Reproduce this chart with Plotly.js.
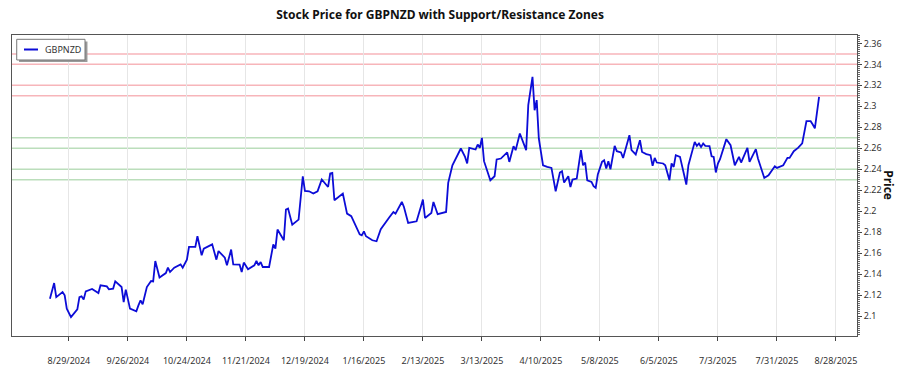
<!DOCTYPE html>
<html>
<head>
<meta charset="utf-8">
<script src="https://cdn.plot.ly/plotly-3.0.1.min.js"></script>
<style>html,body{margin:0;padding:0;background:#fff;}#chart{width:900px;height:375px;}</style>
</head>
<body>
<div id="chart"></div>
<script>
const seriesName = "GBPNZD";
const dates = [
"2024-08-20","2024-08-22","2024-08-23","2024-08-26","2024-08-27","2024-08-28","2024-08-30","2024-09-02","2024-09-03","2024-09-04",
"2024-09-05","2024-09-06","2024-09-09","2024-09-12","2024-09-13","2024-09-16","2024-09-17","2024-09-19","2024-09-20","2024-09-23",
"2024-09-24","2024-09-25","2024-09-27","2024-09-30","2024-10-01","2024-10-02","2024-10-03","2024-10-05","2024-10-07","2024-10-08",
"2024-10-09","2024-10-11","2024-10-14","2024-10-15","2024-10-16","2024-10-18","2024-10-21","2024-10-22","2024-10-24","2024-10-25",
"2024-10-28","2024-10-29","2024-10-31","2024-11-01","2024-11-05","2024-11-07","2024-11-08","2024-11-11","2024-11-12","2024-11-14",
"2024-11-15","2024-11-18","2024-11-19","2024-11-20","2024-11-22","2024-11-25","2024-11-26","2024-11-27","2024-11-28","2024-11-29",
"2024-12-02","2024-12-04","2024-12-05","2024-12-06","2024-12-09","2024-12-10","2024-12-11","2024-12-13","2024-12-16","2024-12-18",
"2024-12-19","2024-12-21","2024-12-23","2024-12-25","2024-12-27","2024-12-30","2024-12-31","2025-01-01","2025-01-02","2025-01-06",
"2025-01-08","2025-01-10","2025-01-14","2025-01-15","2025-01-16","2025-01-17","2025-01-20","2025-01-22","2025-01-24","2025-01-27",
"2025-01-28","2025-01-30","2025-01-31","2025-02-03","2025-02-04","2025-02-06","2025-02-10","2025-02-12","2025-02-13","2025-02-14",
"2025-02-17","2025-02-18","2025-02-20","2025-02-24","2025-02-25","2025-02-27","2025-03-03","2025-03-05","2025-03-06","2025-03-07",
"2025-03-10","2025-03-11","2025-03-12","2025-03-13","2025-03-14","2025-03-17","2025-03-19","2025-03-20","2025-03-22","2025-03-25",
"2025-03-26","2025-03-28","2025-03-29","2025-03-31","2025-04-02","2025-04-03","2025-04-04","2025-04-06","2025-04-07","2025-04-08",
"2025-04-09","2025-04-11","2025-04-13","2025-04-15","2025-04-17","2025-04-19","2025-04-20","2025-04-21","2025-04-23","2025-04-24",
"2025-04-25","2025-04-27","2025-04-29","2025-04-30","2025-05-01","2025-05-02","2025-05-04","2025-05-05","2025-05-06","2025-05-07",
"2025-05-09","2025-05-10","2025-05-11","2025-05-12","2025-05-13","2025-05-15","2025-05-16","2025-05-18","2025-05-19","2025-05-20",
"2025-05-22","2025-05-23","2025-05-25","2025-05-27","2025-05-28","2025-05-30","2025-06-01","2025-06-02","2025-06-03","2025-06-04",
"2025-06-07","2025-06-08","2025-06-10","2025-06-11","2025-06-12","2025-06-13","2025-06-15","2025-06-17","2025-06-18","2025-06-19",
"2025-06-22","2025-06-23","2025-06-24","2025-06-25","2025-06-26","2025-06-27","2025-06-29","2025-06-30","2025-07-01","2025-07-02",
"2025-07-03","2025-07-04","2025-07-07","2025-07-09","2025-07-11","2025-07-13","2025-07-14","2025-07-17","2025-07-18","2025-07-21",
"2025-07-22","2025-07-25","2025-07-27","2025-07-30","2025-07-31","2025-08-03","2025-08-05","2025-08-06","2025-08-08","2025-08-10",
"2025-08-12","2025-08-14","2025-08-16","2025-08-17","2025-08-18","2025-08-20"
];
const prices = [
2.1166,2.1315,2.1181,2.1229,2.1198,2.1071,2.0990,2.1064,2.1181,2.1188,
2.1159,2.1236,2.1258,2.1220,2.1293,2.1283,2.1255,2.1262,2.1331,2.1277,
2.1134,2.1252,2.1071,2.1045,2.1102,2.1150,2.1112,2.1277,2.1334,2.1331,
2.1525,2.1367,2.1410,2.1462,2.1420,2.1462,2.1493,2.1462,2.1538,2.1659,
2.1659,2.1761,2.1579,2.1643,2.1684,2.1538,2.1620,2.1557,2.1484,2.1634,
2.1493,2.1491,2.1420,2.1510,2.1446,2.1484,2.1525,2.1484,2.1515,2.1468,
2.1468,2.1684,2.1643,2.1825,2.1723,2.2016,2.2025,2.1872,2.1920,2.2333,
2.2193,2.2190,2.2168,2.2190,2.2302,2.2231,2.2359,2.2365,2.2104,2.2168,
2.1977,2.1952,2.1780,2.1770,2.1808,2.1761,2.1723,2.1713,2.1828,2.1920,
2.1939,2.1993,2.1977,2.2088,2.2040,2.1888,2.1904,2.2040,2.2111,2.1935,
2.1983,2.2088,2.1971,2.1993,2.2270,2.2438,2.2598,2.2518,2.2455,2.2604,
2.2588,2.2636,2.2604,2.2699,2.2477,2.2295,2.2333,2.2493,2.2502,2.2560,
2.2470,2.2620,2.2582,2.2741,2.2639,2.2582,2.3011,2.3281,2.2963,2.3059,
2.2693,2.2438,2.2422,2.2413,2.2190,2.2369,2.2381,2.2273,2.2333,2.2231,
2.2302,2.2311,2.2582,2.2438,2.2464,2.2295,2.2279,2.2238,2.2222,2.2350,
2.2470,2.2486,2.2407,2.2477,2.2400,2.2623,2.2572,2.2560,2.2508,2.2575,
2.2725,2.2582,2.2541,2.2677,2.2565,2.2545,2.2534,2.2432,2.2508,2.2464,
2.2455,2.2438,2.2295,2.2455,2.2422,2.2534,2.2518,2.2343,2.2254,2.2438,
2.2661,2.2623,2.2646,2.2613,2.2646,2.2623,2.2620,2.2524,2.2518,2.2369,
2.2455,2.2496,2.2687,2.2629,2.2438,2.2518,2.2464,2.2604,2.2470,2.2591,
2.2502,2.2317,2.2343,2.2429,2.2413,2.2438,2.2508,2.2508,2.2572,2.2604,
2.2646,2.2858,2.2858,2.2827,2.2789,2.3090
];
const resistanceLevels = [2.31, 2.32, 2.34, 2.35];
const supportLevels = [2.23, 2.24, 2.26, 2.27];
const yTickStart = 2.1;
const xTickStart = "2024-08-29";
const titleText = "Stock Price for GBPNZD with Support/Resistance Zones";
const yTitleText = "Price";

const FONT = "'Noto Sans', 'Open Sans', sans-serif";
const LINE_COLOR = 'rgb(12,12,215)';

const shapes = [];
resistanceLevels.forEach(v => shapes.push({type:'line', xref:'paper', x0:0, x1:1, yref:'y', y0:v, y1:v,
  line:{color:'rgba(240,120,130,0.55)', width:1.5}, layer:'below'}));
supportLevels.forEach(v => shapes.push({type:'line', xref:'paper', x0:0, x1:1, yref:'y', y0:v, y1:v,
  line:{color:'rgba(120,190,120,0.5)', width:1.5}, layer:'below'}));

// legend box (drawn to match the compact legend of the reference)
shapes.push({type:'rect', xref:'paper', yref:'paper', x0:0.0083, x1:0.0893, y0:0.9103, y1:0.978,
  fillcolor:'#9a9a9a', line:{width:0}, layer:'above'});
shapes.push({type:'rect', xref:'paper', yref:'paper', x0:0.0056, x1:0.0864, y0:0.917, y1:0.9857,
  fillcolor:'#ffffff', line:{color:'#777', width:1}, layer:'above'});
shapes.push({type:'line', xref:'paper', yref:'paper', x0:0.0142, x1:0.0308, y0:0.9518, y1:0.9518,
  line:{color:LINE_COLOR, width:2}, layer:'above'});

const trace = {
  x: dates, y: prices, type:'scatter', mode:'lines', name: seriesName, showlegend:false,
  line:{color:LINE_COLOR, width:1.8}
};

const layout = {
  width:900, height:375,
  margin:{l:12, r:43, t:35, b:39},
  paper_bgcolor:'#fff', plot_bgcolor:'#fff',
  font:{family:FONT, size:9, color:'#333'},
  title:{text:titleText, font:{family:FONT, size:12, color:'#111', weight:'bold'}, x:0.489, xanchor:'center', y:0.96, yanchor:'middle'},
  showlegend:false,
  xaxis:{type:'date', range:['2024-08-02','2025-09-07'], tick0:xTickStart, dtick:28*86400000,
    tickformat:'%-m/%-d/%Y', showgrid:true, gridcolor:'#e6e6e6', gridwidth:1,
    ticks:'outside', ticklen:4, tickcolor:'#444', showline:true, linecolor:'#555', linewidth:1, mirror:true,
    zeroline:false, ticklabelstandoff:12, tickfont:{size:9, color:'#333'}},
  yaxis:{side:'right', range:[2.081, 2.368], tick0:yTickStart, dtick:0.02, tickformat:'.2~f',
    showgrid:false, zeroline:false, ticks:'outside', ticklen:4, tickcolor:'#444',
    showline:true, linecolor:'#555', linewidth:1, mirror:true, tickfont:{size:9, color:'#333'},
    minor:{ticks:'outside', ticklen:2, dtick:0.002, tickcolor:'#666', showgrid:false}},
  shapes: shapes,
  annotations:[
    {text:yTitleText, xref:'paper', yref:'paper', x:1.037, y:0.5, showarrow:false, textangle:90,
     font:{family:FONT, size:12, color:'#111', weight:'bold'}, xanchor:'center', yanchor:'middle'},
    {text:seriesName, xref:'paper', yref:'paper', x:0.0365, y:0.9518, showarrow:false,
     font:{family:FONT, size:9, color:'#333'}, xanchor:'left', yanchor:'middle'}
  ]
};

Plotly.newPlot('chart', [trace], layout, {displayModeBar:false, staticPlot:true});
</script>
</body>
</html>
